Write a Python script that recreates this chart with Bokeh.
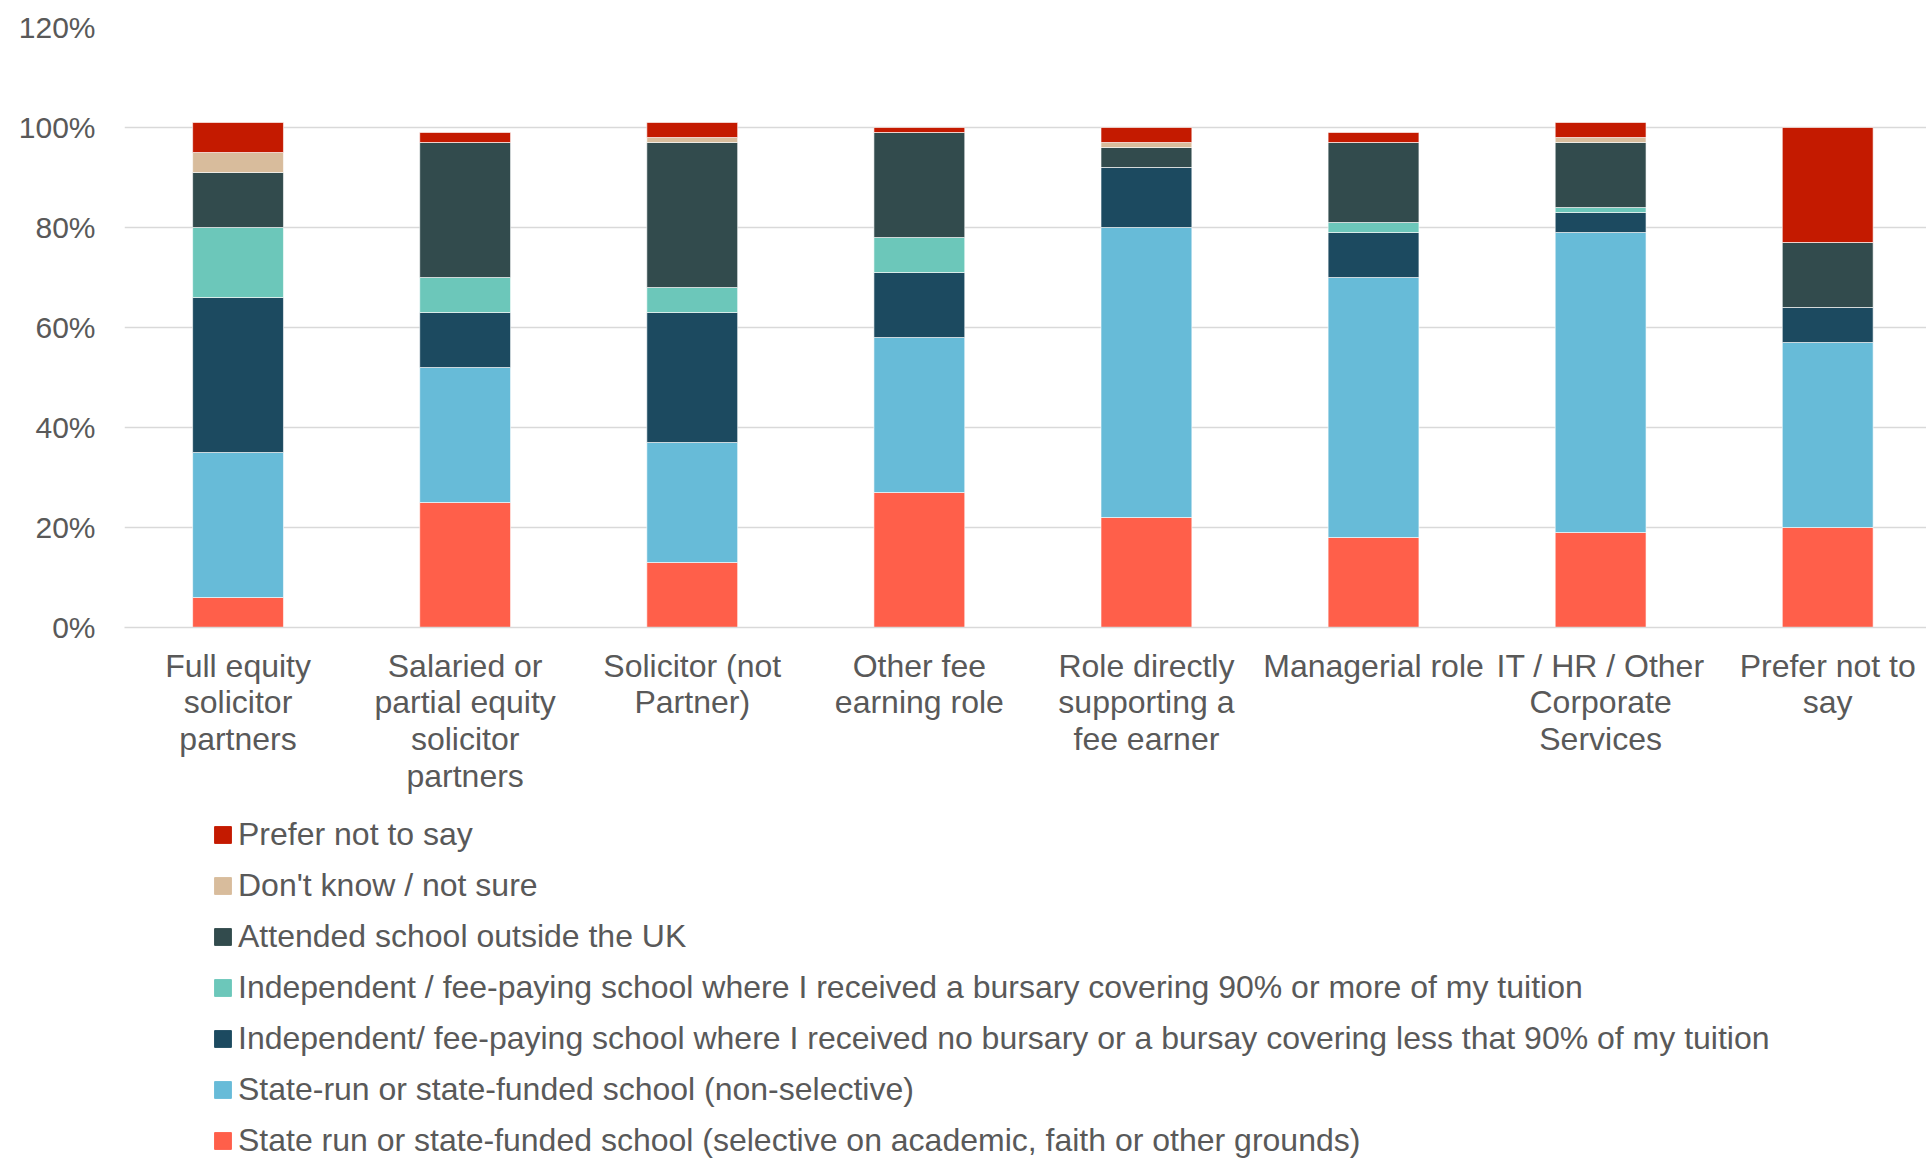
from bokeh.plotting import figure
from bokeh.layouts import column
from bokeh.models import (Range1d, FixedTicker, PrintfTickFormatter, Legend, LegendItem,
                          ColumnDataSource)
from bokeh.embed import file_html
from bokeh.resources import INLINE

categories = ["Full equity\nsolicitor\npartners",
              "Salaried or\npartial equity\nsolicitor\npartners",
              "Solicitor (not\nPartner)",
              "Other fee\nearning role",
              "Role directly\nsupporting a\nfee earner",
              "Managerial role",
              "IT / HR / Other\nCorporate\nServices",
              "Prefer not to\nsay"]

series_names = [
    "State run or state-funded school (selective on academic, faith or other grounds)",
    "State-run or state-funded school (non-selective)",
    "Independent/ fee-paying school where I received no bursary or a bursay covering less that 90% of my tuition",
    "Independent / fee-paying school where I received a bursary covering 90% or more of my tuition",
    "Attended school outside the UK",
    "Don't know / not sure",
    "Prefer not to say",
]

state_selective     = [6, 25, 13, 27, 22, 18, 19, 20]
state_nonselective  = [29, 27, 24, 31, 58, 52, 60, 37]
indep_no_bursary    = [31, 11, 26, 13, 12, 9, 4, 7]
indep_bursary       = [14, 7, 5, 7, 0, 2, 1, 0]
outside_uk          = [11, 27, 29, 21, 4, 16, 13, 13]
dont_know           = [4, 0, 1, 0, 1, 0, 1, 0]
prefer_not          = [6, 2, 3, 1, 3, 2, 3, 23]

y_ticks = [0, 20, 40, 60, 80, 100, 120]

colors = ["#FF5F4A", "#67BBD8", "#1C4A60", "#6CC7BA", "#324B4D", "#D8BC9C", "#C41A00"]

keys = ["s0", "s1", "s2", "s3", "s4", "s5", "s6"]
data = dict(x=list(range(len(categories))))
for k, vals in zip(keys, [state_selective, state_nonselective, indep_no_bursary, indep_bursary,
                          outside_uk, dont_know, prefer_not]):
    data[k] = vals
source = ColumnDataSource(data)

FONT = "Liberation Sans"
GREY = "#595959"

TOP_H = 800
p = figure(width=1926, height=TOP_H, output_backend="svg", toolbar_location=None,
           x_range=Range1d(-0.5, 7.435), y_range=Range1d(0, 120),
           min_border_left=124, min_border_right=0, min_border_top=27, min_border_bottom=173)
p.outline_line_color = None
p.background_fill_color = "white"

renderers = p.vbar_stack(keys, x="x", width=0.40, color=colors, source=source,
                         line_color="white", line_width=0.6)

p.yaxis.ticker = FixedTicker(ticks=y_ticks)
p.yaxis.formatter = PrintfTickFormatter(format="%d%%")
p.yaxis.axis_line_color = None
p.yaxis.major_tick_line_color = None
p.yaxis.minor_tick_line_color = None
p.yaxis.major_label_text_font = FONT
p.yaxis.major_label_text_font_size = "30px"
p.yaxis.major_label_text_color = GREY
p.yaxis.major_label_standoff = 23

p.xaxis.ticker = FixedTicker(ticks=list(range(len(categories))))
p.xaxis.major_label_overrides = {i: c for i, c in enumerate(categories)}
p.xaxis.axis_line_color = "#D9D9D9"
p.xaxis.axis_line_width = 1.5
p.xaxis.major_tick_line_color = None
p.xaxis.minor_tick_line_color = None
p.xaxis.major_label_text_font = FONT
p.xaxis.major_label_text_font_size = "32px"
p.xaxis.major_label_text_line_height = 1.02
p.xaxis.major_label_text_color = GREY
p.xaxis.major_label_standoff = 14
p.xaxis.major_label_text_align = "center"

p.xgrid.grid_line_color = None
p.ygrid.grid_line_color = "#D9D9D9"
p.ygrid.grid_line_width = 1.5

# legend panel (swatch renderers use the same data, kept out of view)
LEG_H = 1160 - TOP_H
q = figure(width=1926, height=LEG_H, output_backend="svg", toolbar_location=None,
           x_range=Range1d(100, 101), y_range=Range1d(100, 101),
           min_border_left=0, min_border_right=0, min_border_top=0, min_border_bottom=0)
q.axis.visible = False
q.grid.visible = False
q.outline_line_color = None
swatches = [q.vbar(x="x", top=keys[i], width=0.4, color=colors[i], source=source)
            for i in range(7)]
items = [LegendItem(label=series_names[i], renderers=[swatches[i]]) for i in range(6, -1, -1)]
legend = Legend(items=items, location=(88, 1), orientation="vertical",
                label_text_font=FONT, label_text_font_size="32px", label_text_color=GREY,
                glyph_width=21, glyph_height=21, label_standoff=5, label_height=30,
                spacing=14, padding=0, margin=0,
                border_line_color=None, background_fill_alpha=0)
q.add_layout(legend, "center")

layout = column(p, q, spacing=0)
open("out.html", "w").write(file_html(layout, INLINE))
